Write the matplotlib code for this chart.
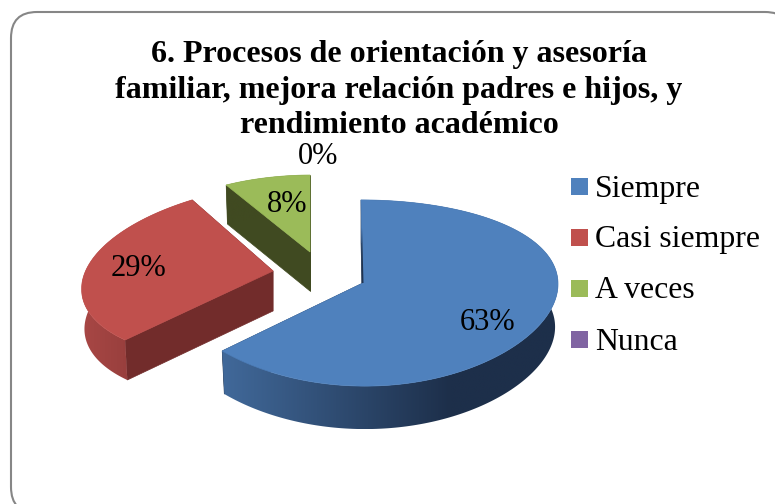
import numpy as np
import matplotlib

matplotlib.use('Agg')

import matplotlib.pyplot as plt
from matplotlib.colors import to_rgb
from matplotlib.patches import FancyBboxPatch, Polygon, Rectangle

title = '6. Procesos de orientación y asesoría\nfamiliar, mejora relación padres e hijos, y\nrendimiento académico'
categories = ['Siempre', 'Casi siempre', 'A veces', 'Nunca']
percent = [63, 29, 8, 0]

colors = ['#4F81BD', '#C0504D', '#9BBB59', '#8064A2']
cut_colors = ['#1F3350', '#722C2B', '#404A21', '#40305A']
side_left = ['#41699A', '#A84745', '#404A21', '#40305A']
side_right = ['#1D2F4A', '#8E3A38', '#404A21', '#40305A']

# vertice de cada porcion (pixeles), matriz disco -> pantalla, perspectiva y grosor
apex = [(363, 283), (273, 271), (310, 252)]
matrix = [(195, -2, 0, -92), (191, 12.7, -12.2, -87.8), (174, 0, -1, -77)]
persp = [0.1075, 0, 0]
depths = [43, 40, 39]


def to_screen(i, u, v):
    a, b, c, d = matrix[i]
    x = apex[i][0] + a * u + b * v
    y = apex[i][1] + (c * u + d * v) / (1 + persp[i] * v)
    return x, y


fig = plt.figure(figsize=(7.75, 5.04), dpi=100)
ax = fig.add_axes([0, 0, 1, 1])
ax.axis('off')

ax.add_patch(FancyBboxPatch((37, 38), 728, 449, boxstyle='round,pad=26,rounding_size=26',
                            fc='white', ec='#868686', lw=1.5))

edges = np.cumsum([0] + percent) / sum(percent) * 2 * np.pi

# de atras hacia adelante
for i in [2, 1, 0]:
    t = np.linspace(edges[i], edges[i + 1], 200)
    x, y = to_screen(i, np.sin(t), np.cos(t))
    xl = apex[i][0] + (x - apex[i][0]) * 0.985
    yl = y + depths[i]
    ax0, ay0 = apex[i]

    # caras del corte
    for k in [0, -1]:
        ax.add_patch(Polygon([(ax0, ay0), (x[k], y[k]), (xl[k], yl[k]), (ax0, ay0 + depths[i])],
                             fc=cut_colors[i], ec=cut_colors[i], lw=0.5))

    # lado exterior con degradado horizontal
    side = Polygon(np.column_stack([np.r_[x, xl[::-1]], np.r_[y, yl[::-1]]]), fc='none', ec='none')
    ax.add_patch(side)
    lo, hi = x.min(), x.max()
    f = np.clip(np.linspace(0, 1, 256) / 0.68, 0, 1)[None, :, None]
    grad = np.array(to_rgb(side_left[i]))[None, None, :] * (1 - f) + np.array(to_rgb(side_right[i]))[None, None, :] * f
    im = ax.imshow(grad, extent=(lo, hi, yl.max(), y.min()), aspect='auto', interpolation='bilinear', zorder=1)
    im.set_clip_path(side)

    ax.add_patch(Polygon(np.column_stack([np.r_[ax0, x], np.r_[ay0, y]]), fc=colors[i], ec=colors[i], lw=0.5))

# hilo oscuro del corte azul
ax.add_patch(Polygon([(362, 228), (363.5, 283), (361.5, 283)], fc=cut_colors[0], ec='none'))

ax.text(399, 40, title, ha='center', va='top', fontsize=23, fontweight='bold',
        family='Liberation Serif', linespacing=1.3, color='black')

label_pos = [(488, 323), (138, 268), (287, 205), (318, 156)]
for p, (lx, ly) in zip(percent, label_pos):
    ax.text(lx, ly, f'{p}%', ha='center', va='center', fontsize=22, family='Liberation Serif', color='black')

for n, (name, col) in enumerate(zip(categories, colors)):
    ys = 187 + 51 * n
    ax.add_patch(Rectangle((571, ys - 9), 17, 17, fc=col, ec='none'))
    ax.text(595, ys + 2, name, ha='left', va='center', fontsize=22.9, family='Liberation Serif', color='black')

ax.set_xlim(0, 775)
ax.set_ylim(504, 0)
fig.savefig('out.png', dpi=100)
